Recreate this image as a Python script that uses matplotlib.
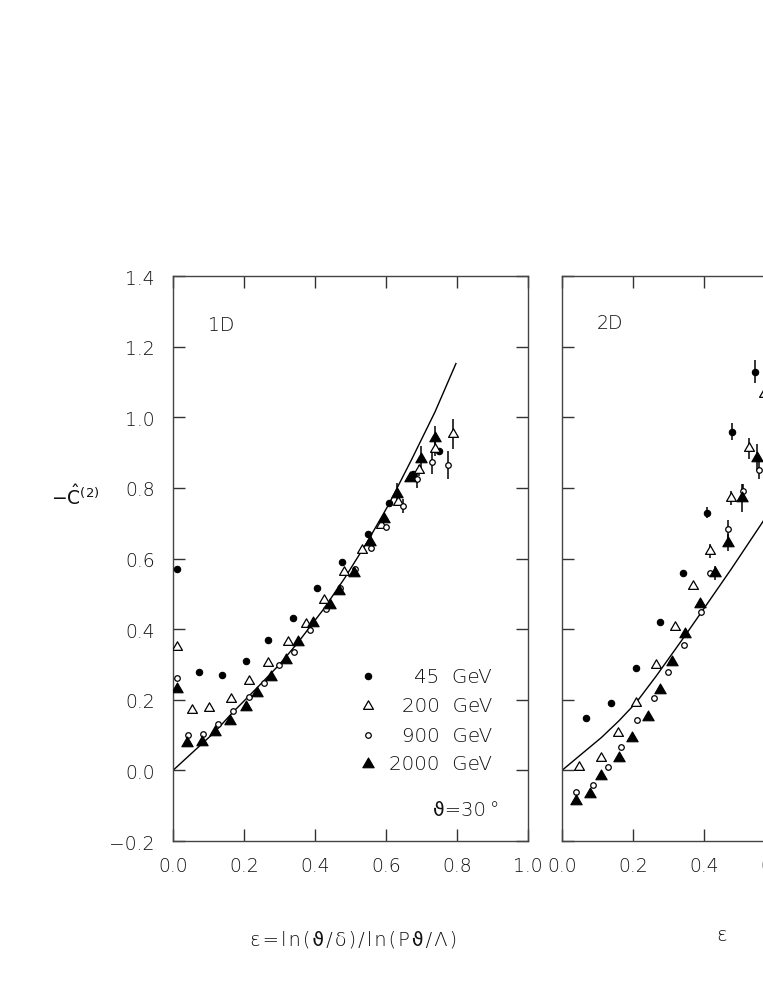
import numpy as np
import matplotlib
matplotlib.use("Agg")
import matplotlib.pyplot as plt
from matplotlib.path import Path

FAM = ['DejaVu Sans', 'DejaVu Sans Mono', 'Noto Sans']
plt.rcParams['font.family'] = FAM
plt.rcParams['mathtext.fontset'] = 'custom'
plt.rcParams['mathtext.rm'] = 'DejaVu Sans:light'
plt.rcParams['mathtext.it'] = 'DejaVu Sans:light'
plt.rcParams['mathtext.default'] = 'regular'

# ---------------- data: 1D panel ----------------
x45_1d = [0.010, 0.073, 0.138, 0.206, 0.269, 0.339, 0.407, 0.477, 0.548, 0.609, 0.675, 0.750]
y45_1d = [0.569, 0.278, 0.269, 0.310, 0.368, 0.432, 0.516, 0.591, 0.670, 0.756, 0.838, 0.904]
e45_1d = [0, 0, 0, 0, 0, 0, 0, 0, 0, 0, 0, 0]

x200_1d = [0.012, 0.054, 0.101, 0.163, 0.214, 0.267, 0.323, 0.374, 0.424, 0.483, 0.531, 0.587, 0.635, 0.693, 0.738, 0.790]
y200_1d = [0.350, 0.171, 0.178, 0.201, 0.252, 0.304, 0.364, 0.415, 0.482, 0.563, 0.623, 0.694, 0.760, 0.850, 0.911, 0.952]
e200_1d = [0, 0, 0, 0, 0, 0, 0, 0, 0, 0, 0, 0, 0, 0.015, 0.02, 0.042]

x900_1d = [0.012, 0.042, 0.085, 0.127, 0.168, 0.215, 0.257, 0.299, 0.342, 0.386, 0.430, 0.470, 0.513, 0.558, 0.600, 0.649, 0.686, 0.729, 0.774]
y900_1d = [0.261, 0.100, 0.103, 0.132, 0.168, 0.209, 0.248, 0.298, 0.335, 0.397, 0.456, 0.516, 0.569, 0.630, 0.690, 0.749, 0.824, 0.873, 0.864]
e900_1d = [0, 0, 0, 0, 0, 0, 0, 0, 0, 0, 0, 0, 0, 0, 0, 0.02, 0.024, 0.035, 0.04]

x2000_1d = [0.012, 0.040, 0.083, 0.117, 0.161, 0.205, 0.238, 0.275, 0.317, 0.352, 0.394, 0.443, 0.467, 0.510, 0.556, 0.594, 0.632, 0.667, 0.699, 0.738]
y2000_1d = [0.231, 0.078, 0.081, 0.110, 0.140, 0.180, 0.218, 0.265, 0.312, 0.363, 0.416, 0.467, 0.508, 0.560, 0.647, 0.713, 0.782, 0.828, 0.881, 0.942]
e2000_1d = [0, 0, 0, 0, 0, 0, 0, 0, 0, 0, 0, 0, 0, 0, 0, 0, 0.033, 0, 0.037, 0.033]

curve_x_1d = [0.0, 0.117, 0.169, 0.238, 0.300, 0.352, 0.423, 0.484, 0.549, 0.606, 0.672, 0.738, 0.797]
curve_y_1d = [0.0, 0.108, 0.165, 0.235, 0.300, 0.362, 0.455, 0.545, 0.650, 0.750, 0.880, 1.015, 1.152]

# ---------------- data: 2D panel ----------------
x45_2d = [0.068, 0.138, 0.208, 0.277, 0.340, 0.409, 0.478, 0.545]
y45_2d = [0.149, 0.190, 0.289, 0.420, 0.558, 0.730, 0.959, 1.129]
e45_2d = [0, 0, 0, 0, 0, 0.015, 0.024, 0.032]

x200_2d = [0.049, 0.111, 0.158, 0.209, 0.266, 0.317, 0.368, 0.416, 0.476, 0.528, 0.568]
y200_2d = [0.010, 0.036, 0.105, 0.192, 0.298, 0.406, 0.522, 0.621, 0.771, 0.912, 1.065]
e200_2d = [0, 0, 0, 0, 0, 0, 0.01, 0.02, 0.02, 0.03, 0.03]

x900_2d = [0.039, 0.087, 0.129, 0.167, 0.211, 0.260, 0.298, 0.345, 0.392, 0.418, 0.467, 0.511, 0.555]
y900_2d = [-0.061, -0.042, 0.009, 0.066, 0.143, 0.204, 0.279, 0.355, 0.449, 0.558, 0.683, 0.791, 0.851]
e900_2d = [0, 0, 0, 0, 0, 0, 0, 0, 0, 0, 0.025, 0.02, 0.025]

x2000_2d = [0.039, 0.080, 0.111, 0.160, 0.197, 0.241, 0.275, 0.310, 0.347, 0.388, 0.430, 0.467, 0.508, 0.548]
y2000_2d = [-0.087, -0.066, -0.016, 0.034, 0.093, 0.152, 0.227, 0.307, 0.385, 0.470, 0.560, 0.645, 0.771, 0.886]
e2000_2d = [0, 0, 0, 0, 0, 0, 0, 0, 0, 0, 0.02, 0.025, 0.04, 0.037]

curve_x_2d = [0.0, 0.05, 0.111, 0.160, 0.209, 0.266, 0.347, 0.392, 0.476, 0.563, 0.580]
curve_y_2d = [0.0, 0.042, 0.093, 0.140, 0.192, 0.268, 0.382, 0.447, 0.569, 0.700, 0.727]

legend_labels = ['45  GeV', '200  GeV', '900  GeV', '2000  GeV']
xticks = [0.0, 0.2, 0.4, 0.6, 0.8, 1.0]
yticks = [-0.2, 0.0, 0.2, 0.4, 0.6, 0.8, 1.0, 1.2, 1.4]

# ---------------- styles ----------------
TXT = '#111111'
FS = 13.5
FW = 'light'
tri = Path([(0, 0.577), (-0.5, -0.289), (0.5, -0.289), (0, 0.577)], closed=True)
styles = [
    dict(marker='o', ms=4.6, mfc='black', mec='black', mew=0.8),
    dict(marker=tri, ms=8.2, mfc='white', mec='black', mew=0.9),
    dict(marker='o', ms=4.0, mfc='white', mec='black', mew=0.9),
    dict(marker=tri, ms=9.4, mfc='black', mec='black', mew=0.8),
]

fig = plt.figure(figsize=(7.63, 9.87), dpi=100)
W, H = 763.0, 987.0
ax1 = fig.add_axes([173 / W, 145 / H, 355 / W, 565 / H])
ax2 = fig.add_axes([562 / W, 145 / H, 355 / W, 565 / H])


def setup(ax, ylabels):
    ax.set_xlim(0, 1)
    ax.set_ylim(-0.2, 1.4)
    ax.set_xticks(xticks)
    ax.set_yticks(yticks)
    ax.set_xticklabels(['%.1f' % t for t in xticks], fontweight=FW)
    if ylabels:
        ax.set_yticklabels(['\u2212%.1f' % abs(t) if t < 0 else '%.1f' % t for t in yticks],
                           fontweight=FW)
    else:
        ax.set_yticklabels([])
    ax.tick_params(direction='in', top=True, right=True, length=8.5, width=1.0,
                   color='#333333', labelsize=FS, labelcolor=TXT)
    ax.tick_params(axis='x', pad=11)
    ax.tick_params(axis='y', pad=13)
    for s in ax.spines.values():
        s.set_linewidth(1.0)
        s.set_color('#444444')


def draw(ax, xs, ys, es, cx, cy):
    ax.plot(cx, cy, color='black', lw=1.0, zorder=2)
    for x, y, e, st in zip(xs, ys, es, styles):
        x = np.asarray(x); y = np.asarray(y); e = np.asarray(e)
        m = e > 0
        if m.any():
            ax.errorbar(x[m], y[m], yerr=e[m], fmt='none', ecolor='black',
                        elinewidth=1.1, capsize=0, zorder=3)
        ax.plot(x, y, linestyle='none', zorder=4, **st)


setup(ax1, True)
setup(ax2, False)

draw(ax1,
     [x45_1d, x200_1d, x900_1d, x2000_1d],
     [y45_1d, y200_1d, y900_1d, y2000_1d],
     [e45_1d, e200_1d, e900_1d, e2000_1d],
     curve_x_1d, curve_y_1d)
draw(ax2,
     [x45_2d, x200_2d, x900_2d, x2000_2d],
     [y45_2d, y200_2d, y900_2d, y2000_2d],
     [e45_2d, e200_2d, e900_2d, e2000_2d],
     curve_x_2d, curve_y_2d)

# legend (drawn manually as in the original)
leg_y = [0.2915, 0.2395, 0.1876, 0.1363]
for ly, lab, st in zip(leg_y, legend_labels, styles):
    ax1.plot([0.548], [ly], transform=ax1.transAxes, linestyle='none', clip_on=False, **st)
    ax1.text(0.899, ly, lab, transform=ax1.transAxes, ha='right', va='center',
             fontsize=14.3, color=TXT, fontweight=FW)

ax1.text(0.921, 0.055, '\u03d1=30\u2009\u00b0', transform=ax1.transAxes, ha='right', va='center',
         fontsize=14.0, color=TXT, fontweight=FW, family=FAM)
ax1.text(0.0986, 0.915, '1D', transform=ax1.transAxes, ha='left', va='center',
         fontsize=FS, color=TXT, fontweight=FW)
ax2.text(0.0986, 0.918, '2D', transform=ax2.transAxes, ha='left', va='center',
         fontsize=FS, color=TXT, fontweight=FW)

fig.text(75 / W, 1 - 497 / H, r'$-\hat{C}^{(2)}$', ha='center', va='center',
         fontsize=FS, color=TXT)
hs = '\u200a'
xlab = hs.join(list('\u03b5=ln(\u03d1/\u03b4)/ln(P\u03d1/\u039b)'))
fig.text(354 / W, 1 - 940 / H, xlab, ha='center', va='center',
         fontsize=14.0, color=TXT, fontweight=FW, family=FAM)
fig.text(722 / W, 1 - 936 / H, '\u03b5', ha='center', va='center',
         fontsize=14.0, color=TXT, fontweight=FW)

fig.savefig('out.png', dpi=100)
